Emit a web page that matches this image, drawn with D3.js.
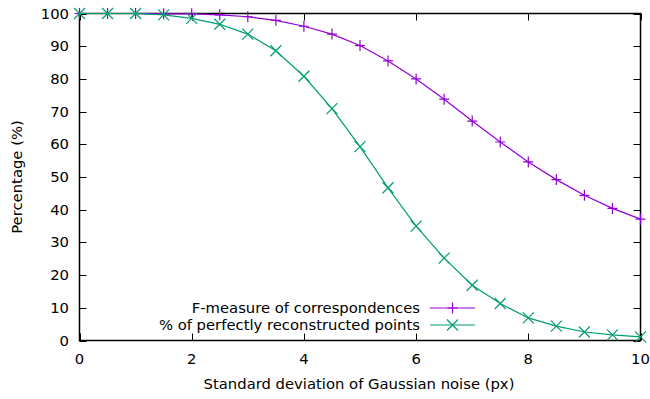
<!DOCTYPE html>
<html><head><meta charset="utf-8">
<script src="https://cdn.jsdelivr.net/npm/d3@7"></script>
<style>body{margin:0;background:#fff}svg{display:block}text{font-family:"DejaVu Sans",sans-serif;fill:#000}</style>
</head><body><svg id="c" width="650" height="399"></svg>
<script>
const noise = [0,0.5,1,1.5,2,2.5,3,3.5,4,4.5,5,5.5,6,6.5,7,7.5,8,8.5,9,9.5,10];
const fMeasure = [100,100,100,99.9,99.9,99.6,99.0,97.9,96.1,93.7,90.2,85.5,80.0,73.8,67.1,60.7,54.6,49.2,44.4,40.4,37.1];
const perfect = [100,100,100,99.6,98.5,96.7,93.7,88.6,80.8,70.9,59.3,46.7,35.0,25.2,16.9,11.3,6.9,4.4,2.6,1.7,1.1];
const xTicks = [0,2,4,6,8,10];
const yTicks = [0,10,20,30,40,50,60,70,80,90,100];
const seriesNames = ["F-measure of correspondences","% of perfectly reconstructed points"];
const colors = ["#9400d3","#009e73"];

const svg = d3.select("#c");
const L=79.5,R=640.5,T=13.5,B=340.5;
const x = d3.scaleLinear().domain([0,10]).range([L,R]);
const y = d3.scaleLinear().domain([0,100]).range([B,T]);
const fs = 14.8;

const g = svg.append("g").attr("stroke","#000").attr("stroke-width",1);
yTicks.forEach(v=>{
  g.append("line").attr("x1",L).attr("x2",L+7).attr("y1",Math.round(y(v))+0.5).attr("y2",Math.round(y(v))+0.5);
  g.append("line").attr("x1",R).attr("x2",R-7).attr("y1",Math.round(y(v))+0.5).attr("y2",Math.round(y(v))+0.5);
});
xTicks.forEach(v=>{
  g.append("line").attr("y1",B).attr("y2",B-7).attr("x1",Math.round(x(v))+0.5).attr("x2",Math.round(x(v))+0.5);
  g.append("line").attr("y1",T).attr("y2",T+7).attr("x1",Math.round(x(v))+0.5).attr("x2",Math.round(x(v))+0.5);
});
svg.append("rect").attr("x",L).attr("y",T).attr("width",R-L).attr("height",B-T)
  .attr("fill","none").attr("stroke","#000").attr("stroke-width",1.5);

yTicks.forEach(v=>{
  svg.append("text").attr("x",69).attr("y",y(v)+5).attr("text-anchor","end").attr("font-size",fs).text(v);
});
xTicks.forEach(v=>{
  svg.append("text").attr("x",x(v)).attr("y",364).attr("text-anchor","middle").attr("font-size",fs).text(v);
});
svg.append("text").attr("transform","translate(22,177) rotate(-90)").attr("text-anchor","middle").attr("font-size",fs).text("Percentage (%)");
svg.append("text").attr("x",359).attr("y",389).attr("text-anchor","middle").attr("font-size",fs).text("Standard deviation of Gaussian noise (px)");

const line = d3.line().x((d,i)=>x(noise[i])).y(d=>y(d));
function plus(sel,cx,cy,c){
  sel.append("path").attr("d",`M${cx-5},${cy}H${cx+5}M${cx},${cy-5.5}V${cy+5.5}`).attr("stroke",c).attr("stroke-width",1.2).attr("fill","none");
}
function cross(sel,cx,cy,c){
  const r=5.5;
  sel.append("path").attr("d",`M${cx-r},${cy-r}L${cx+r},${cy+r}M${cx-r},${cy+r}L${cx+r},${cy-r}`).attr("stroke",c).attr("stroke-width",1.2).attr("fill","none");
}
const markers=[plus,cross];
[fMeasure,perfect].forEach((data,k)=>{
  const gg = svg.append("g");
  gg.append("path").datum(data).attr("d",line).attr("fill","none").attr("stroke",colors[k]).attr("stroke-width",1.2);
  data.forEach((d,i)=>markers[k](gg,x(noise[i]),y(d),colors[k]));
});

seriesNames.forEach((n,k)=>{
  const cy = 308 + k*17;
  svg.append("text").attr("x",420).attr("y",cy+5).attr("text-anchor","end").attr("font-size",fs).text(n);
  svg.append("line").attr("x1",430).attr("x2",475).attr("y1",cy).attr("y2",cy).attr("stroke",colors[k]).attr("stroke-width",1.2);
  markers[k](svg,452.5,cy,colors[k]);
});
</script></body></html>
